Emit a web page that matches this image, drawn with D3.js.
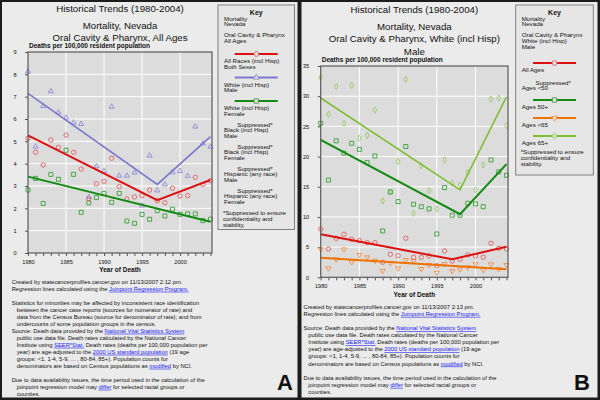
<!DOCTYPE html>
<html>
<head>
<meta charset="utf-8">
<script src="https://cdn.jsdelivr.net/npm/d3@7"></script>
<style>
body { margin: 0; background: #1c1c1c; }
svg { display: block; }
text { font-family: Arial, "Liberation Sans", sans-serif; fill: #111; }
</style>
</head>
<body>
<div id="chart"></div>
<script>
// ---- data ----
const years = [1980,1981,1982,1983,1984,1985,1986,1987,1988,1989,1990,1991,1992,
               1993,1994,1995,1996,1997,1998,1999,2000,2001,2002,2003,2004];

// panel A: all ages, rate per 100,000
const allRacesA   = [5.13,4.51,3.94,5.06,4.73,5.28,4.51,3.76,2.42,3.10,3.21,4.24,2.97,2.42,2.51,2.57,2.82,2.34,2.25,2.90,2.55,2.57,3.39,3.07,3.24];
const whiteMaleA  = [8.12,4.76,6.58,7.24,6.30,6.06,5.84,5.78,2.51,3.88,3.67,6.55,3.46,3.46,3.60,2.12,4.36,2.80,3.07,3.62,3.67,3.45,5.66,4.91,4.76];
const whiteFemA   = [2.82,3.34,2.22,3.52,3.30,4.60,3.52,1.82,2.25,2.48,2.67,2.27,2.67,1.43,1.33,1.73,1.51,1.90,1.66,1.96,1.73,1.75,1.75,1.45,1.51];
// joinpoint fits (year, rate)
const fitAllRacesA  = [[1980,5.27],[1997,2.37],[2004,3.27]];
const fitWhiteMaleA = [[1980,7.15],[1997,3.07],[2004,5.21]];
const fitWhiteFemA  = [[1980,3.42],[2004,1.40]];

// panel B: white (incl hisp) male
const allAgesB  = [8.00,4.69,6.47,7.13,6.30,6.07,5.74,5.74,2.49,3.81,3.58,6.47,3.32,3.32,3.54,1.93,4.36,2.70,2.98,3.70,3.54,3.32,5.64,4.80,4.69];
const ages50B   = [25.5,16.1,22.6,20.56,22.2,21.2,19.0,20.1,7.68,14.15,12.54,21.66,12.1,11.7,11.33,7.18,14.86,10.28,10.28,12.27,12.16,11.7,19.45,17.46,16.9];
const under65B  = [4.64,1.49,2.98,4.64,2.49,3.70,3.32,2.75,1.09,2.32,1.49,2.87,2.70,1.38,2.04,0.76,2.20,1.04,1.33,1.66,2.16,1.20,2.16,1.38,2.04];
const ages65B   = [33.1,27.0,31.6,25.5,31.8,23.05,23.5,27.7,12.65,14.1,19.2,32.8,10.6,18.46,14.36,11.28,19.45,15.6,15.3,17.35,14.48,18.6,29.5,29.7,25.1];
const fitAllAgesB = [[1980,7.13],[1997,2.98],[2004,5.07]];
const fit50B      = [[1980,22.77],[1998,10.45],[2004,18.74]];
const fitUnder65B = [[1980,3.25],[2004,1.33]];
const fit65B      = [[1980,29.7],[1998,14.48],[2004,29.9]];

const yTicksA = [0,1,2,3,4,5,6,7,8,9];
const yTicksB = [0,5,10,15,20,25,30,35];
const xLabelYears = [1980,1985,1990,1995,2000];

const titlesA = ["Historical Trends (1980-2004)","Mortality, Nevada","Oral Cavity & Pharynx, All Ages"];
const titlesB = ["Historical Trends (1980-2004)","Mortality, Nevada","Oral Cavity & Pharynx, White (incl Hisp)","Male"];

const keyHeadA = [["Mortality","Nevada"],["Oral Cavity & Pharynx","All Ages"]];
const keyHeadB = [["Mortality","Nevada"],["Oral Cavity & Pharynx","White (incl Hisp)","Male"]];
const keyNamesA = [["All Races (incl Hisp)","Both Sexes"],["White (incl Hisp)","Male"],["White (incl Hisp)","Female"]];
const keySuppA  = [["Black (incl Hisp)","Male"],["Black (incl Hisp)","Female"],["Hispanic (any race)","Male"],["Hispanic (any race)","Female"]];
const keyNamesB = [["All Ages"],["Ages 50+"],["Ages <65"],["Ages 65+"]];
const keySuppB  = [["Ages <50"]];
const keyNote   = ["*Suppressed to ensure","confidentiality and","stability."];

// [indent?, text]  -- [..] marks a link
const notesA = [
  [0,"Created by statecancerprofiles.cancer.gov on 11/13/2007 2:12 pm."],
  [0,"Regression lines calculated using the [Joinpoint Regression Program.]"],
  null,
  [0,"Statistics for minorities may be affected by inconsistent race identification"],
  [1,"between the cancer case reports (sources for numerator of rate) and"],
  [1,"data from the Census Bureau (source for denominator of rate); and from"],
  [1,"undercounts of some population groups in the census."],
  [0,"Source: Death data provided by the [National Vital Statistics System]"],
  [1,"public use data file. Death rates calculated by the National Cancer"],
  [1,"Institute using [SEER*Stat.] Death rates (deaths per 100,000 population per"],
  [1,"year) are age-adjusted to the [2000 US standard population] (19 age"],
  [1,"groups: <1, 1-4, 5-9, ... , 80-84, 85+). Population counts for"],
  [1,"denominators are based on Census populations as [modified] by NCI."],
  null,
  [0,"Due to data availability issues, the time period used in the calculation of the"],
  [1,"joinpoint regression model may [differ] for selected racial groups or"],
  [1,"counties."]
];
const notesB = [
  [0,"Created by statecancerprofiles.cancer.gov on 11/13/2007 2:13 pm."],
  [0,"Regression lines calculated using the [Joinpoint Regression Program.]"],
  null,
  [0,"Source: Death data provided by the [National Vital Statistics System]"],
  [1,"public use data file. Death rates calculated by the National Cancer"],
  [1,"Institute using [SEER*Stat.] Death rates (deaths per 100,000 population per"],
  [1,"year) are age-adjusted to the [2000 US standard population] (19 age"],
  [1,"groups: <1, 1-4, 5-9, ... , 80-84, 85+). Population counts for"],
  [1,"denominators are based on Census populations as [modified] by NCI."],
  null,
  [0,"Due to data availability issues, the time period used in the calculation of the"],
  [1,"joinpoint regression model may [differ] for selected racial groups or"],
  [1,"counties."]
];

// ---- styles ----
const RED = {line:"#dd1111", mark:"#e06060", sym:d3.symbolCircle, size:15, lw:2};
const PURPLE = {line:"#7a78cc", mark:"#8c8ad6", sym:d3.symbolTriangle, size:11, lw:1.6};
const GREEN = {line:"#148a14", mark:"#3aa03a", sym:d3.symbolSquare, size:16, lw:2};
const ORANGE = {line:"#ee7200", mark:"#f0904a", sym:d3.symbolTriangle, size:11, lw:2, flip:true};
const LGREEN = {line:"#7fbf35", mark:"#98c866", sym:d3.symbolDiamond, size:11, lw:1.6};

const svg = d3.select("#chart").append("svg").attr("width",600).attr("height",400);

// two framed panels
svg.append("rect").attr("width",600).attr("height",400).attr("fill","#1c1c1c");
svg.append("rect").attr("x",2).attr("y",2).attr("width",295.5).attr("height",395.5).attr("fill","#ebebeb");
svg.append("rect").attr("x",301.5).attr("y",2).attr("width",296).attr("height",395.5).attr("fill","#ebebeb");

function drawPlot(cfg) {
  const g = svg.append("g");
  const x = d3.scaleLinear().domain([1980, 2004.2]).range([cfg.left, cfg.right]);
  const y = d3.scaleLinear().domain([0, cfg.yMax]).range([cfg.bottom, cfg.top]);

  g.append("rect").attr("x",cfg.left).attr("y",cfg.top)
    .attr("width",cfg.right-cfg.left).attr("height",cfg.bottom-cfg.top)
    .attr("fill","#dcdcdc");

  // white grid
  g.append("g").selectAll("line").data(cfg.yTicks.slice(1,-1)).join("line")
    .attr("x1",cfg.left).attr("x2",cfg.right)
    .attr("y1",d=>y(d)).attr("y2",d=>y(d))
    .attr("stroke","#fff").attr("stroke-width",1);
  g.append("g").selectAll("line").data(xLabelYears.slice(1)).join("line")
    .attr("x1",d=>x(d)).attr("x2",d=>x(d))
    .attr("y1",cfg.top).attr("y2",cfg.bottom)
    .attr("stroke","#fff").attr("stroke-width",1);

  // axes
  const ax = g.append("g").attr("transform",`translate(0,${cfg.bottom})`)
    .call(d3.axisBottom(x).tickValues(years).tickSize(3).tickPadding(4)
      .tickFormat(d => xLabelYears.includes(d) ? d : ""));
  const ay = g.append("g").attr("transform",`translate(${cfg.left},0)`)
    .call(d3.axisLeft(y).tickValues(cfg.yTicks).tickSize(3).tickPadding(8.5));
  [ax, ay].forEach(a => {
    a.select(".domain").remove();
    a.selectAll("line").attr("stroke","#555");
    a.selectAll("text").attr("font-size",5.6).attr("fill","#222")
      .attr("font-family","Arial, 'Liberation Sans', sans-serif");
  });

  // points then regression lines
  cfg.series.forEach(s => {
    const st = s.style;
    g.append("g").selectAll("path").data(s.values).join("path")
      .attr("d", d3.symbol().type(st.sym).size(st.size))
      .attr("transform",(d,i)=>`translate(${x(years[i])},${y(d)})` + (st.flip ? " rotate(180)" : ""))
      .attr("fill","none").attr("stroke",st.mark).attr("stroke-width",0.9);
  });
  cfg.series.forEach(s => {
    g.append("path").datum(s.fit)
      .attr("d", d3.line().x(d=>x(d[0])).y(d=>y(d[1])))
      .attr("fill","none").attr("stroke",s.style.line).attr("stroke-width",s.style.lw);
  });

  g.append("rect").attr("x",cfg.left).attr("y",cfg.top)
    .attr("width",cfg.right-cfg.left).attr("height",cfg.bottom-cfg.top)
    .attr("fill","none").attr("stroke","#5a5a5a").attr("stroke-width",1.2);

  // titles
  const cx = (cfg.left+cfg.right)/2;
  cfg.titles.forEach((t,i) => {
    g.append("text").attr("x",cx).attr("y",cfg.titleY[i]).attr("dy","0.35em")
      .attr("text-anchor","middle").attr("font-size",9.7).text(t);
  });
  g.append("text").attr("x",cfg.left+1).attr("y",cfg.top-4.5)
    .attr("font-size",6.5).attr("font-weight","bold").text("Deaths per 100,000 resident population");
  g.append("text").attr("x",cx).attr("y",cfg.bottom+17).attr("dy","0.35em")
    .attr("text-anchor","middle").attr("font-size",6.5).attr("font-weight","bold").text("Year of Death");
}

function keyText(g, x, y, t, opts) {
  const el = g.append("text").attr("x",x).attr("y",y).attr("dy","0.35em")
    .attr("font-size",(opts && opts.size) || 6.2).text(t);
  if (opts && opts.bold) el.attr("font-weight","bold");
  if (opts && opts.mid) el.attr("text-anchor","middle");
  return el;
}

function drawKey(k) {
  const g = svg.append("g");
  g.append("rect").attr("x",k.x0).attr("y",5).attr("width",k.x1-k.x0).attr("height",k.bottom-5)
    .attr("fill","#e6e6e6").attr("stroke","#808080").attr("stroke-width",1);
  const cx = (k.x0+k.x1)/2, tx = k.x0+6;
  keyText(g, cx, 12.5, "Key", {bold:true, size:7, mid:true});
  let yy = 18.5;
  k.head.forEach(block => {
    block.forEach(t => { keyText(g, tx, yy, t); yy += 5.6; });
    yy += 5.5;
  });
  k.rows.forEach(r => {
    if (r.style) {
      g.append("line").attr("x1",cx-21.5).attr("x2",cx+21.5).attr("y1",r.y).attr("y2",r.y)
        .attr("stroke",r.style.line).attr("stroke-width",2);
      g.append("path").attr("d",d3.symbol().type(r.style.sym).size(r.style.size+3))
        .attr("transform",`translate(${cx},${r.y})` + (r.style.flip ? " rotate(180)" : ""))
        .attr("fill","#e6e6e6").attr("stroke",r.style.mark).attr("stroke-width",0.9);
      r.lines.forEach((t,i) => keyText(g, tx, r.y+7+5.5*i, t));
    } else {
      keyText(g, cx-19, r.y, "Suppressed*");
      r.lines.forEach((t,i) => keyText(g, tx, r.y+5.3+5.6*i, t));
    }
  });
  keyNote.forEach((t,i) => keyText(g, tx-1, k.noteY+6*i, t));
}

function drawNotes(list, x0, x1, y0, step) {
  const g = svg.append("g");
  let yy = y0;
  list.forEach(n => {
    if (!n) { yy += step; return; }
    const t = g.append("text").attr("x", n[0] ? x1 : x0).attr("y",yy).attr("dy","0.35em")
      .attr("font-size",5.8);
    n[1].split(/(\[[^\]]*\])/).forEach(part => {
      if (!part) return;
      if (part[0] === "[") {
        t.append("tspan").text(part.slice(1,-1)).attr("fill","#1a1aee")
          .attr("text-decoration","underline");
      } else {
        t.append("tspan").text(part);
      }
    });
    yy += step;
  });
}

// ---- panel A ----
drawPlot({left:28, right:212, top:52, bottom:253, yMax:9, yTicks:yTicksA,
  titles:titlesA, titleY:[9,25.7,37.3],
  series:[
    {values:whiteFemA, fit:fitWhiteFemA, style:GREEN},
    {values:whiteMaleA, fit:fitWhiteMaleA, style:PURPLE},
    {values:allRacesA, fit:fitAllRacesA, style:RED}
  ]});
drawKey({x0:218, x1:294.5, bottom:229.5, head:keyHeadA, noteY:213,
  rows:[
    {style:RED, y:54, lines:keyNamesA[0]},
    {style:PURPLE, y:77.5, lines:keyNamesA[1]},
    {style:GREEN, y:101, lines:keyNamesA[2]},
    {y:125, lines:keySuppA[0]},
    {y:147, lines:keySuppA[1]},
    {y:169, lines:keySuppA[2]},
    {y:191, lines:keySuppA[3]}
  ]});
drawNotes(notesA, 11.7, 16.7, 281.7, 7);

// ---- panel B ----
drawPlot({left:320.7, right:508, top:66, bottom:277.3, yMax:35, yTicks:yTicksB,
  titles:titlesB, titleY:[10,26.7,39,51.7],
  series:[
    {values:ages65B, fit:fit65B, style:LGREEN},
    {values:ages50B, fit:fit50B, style:GREEN},
    {values:under65B, fit:fitUnder65B, style:ORANGE},
    {values:allAgesB, fit:fitAllAgesB, style:RED}
  ]});
drawKey({x0:515.7, x1:593.3, bottom:175, head:keyHeadB, noteY:152,
  rows:[
    {style:RED, y:63, lines:keyNamesB[0]},
    {y:83, lines:keySuppB[0]},
    {style:GREEN, y:100, lines:keyNamesB[1]},
    {style:ORANGE, y:118, lines:keyNamesB[2]},
    {style:LGREEN, y:136, lines:keyNamesB[3]}
  ]});
drawNotes(notesB, 303.5, 308.3, 306.7, 7.1);

// panel letters
svg.append("text").attr("x",285).attr("y",390).attr("text-anchor","middle")
  .attr("font-size",22).attr("font-weight","bold").attr("fill","#000").text("A");
svg.append("text").attr("x",582).attr("y",390).attr("text-anchor","middle")
  .attr("font-size",22).attr("font-weight","bold").attr("fill","#000").text("B");
</script>
</body>
</html>
